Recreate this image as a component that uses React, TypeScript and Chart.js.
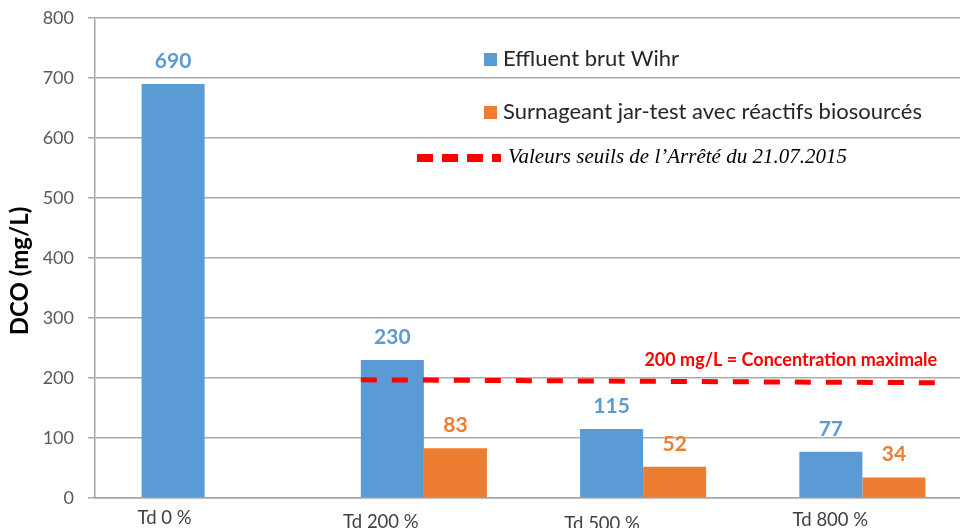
import React, { useEffect, useRef } from 'react';
import { Chart, registerables } from 'chart.js';

Chart.register(...registerables);

// ---- data ----
const categories = ['Td 0 %', 'Td 200 %', 'Td 500 %', 'Td 800 %'];
const effluentBrutWihr = [690, 230, 115, 77];
const surnageantJarTest = [null, 83, 52, 34];
const thresholdLine = [197, 192]; // dashed line values at its start / end
const thresholdValue = 200;
const thresholdLabel = '200 mg/L = Concentration maximale';
const seriesNames = ['Effluent brut Wihr', 'Surnageant jar-test avec réactifs biosourcés'];
const thresholdLegend = 'Valeurs seuils de l\u2019Arr\u00eat\u00e9 du 21.07.2015';
const yTitle = 'DCO (mg/L)';
const yMin = 0;
const yMax = 800;
const yStep = 100;

// ---- styles ----
const BLUE = '#5B9BD5';
const ORANGE = '#ED7D31';
const RED = '#FF0000';
const SANS = 'Lato, "Open Sans", sans-serif';
const SERIF = '"Liberation Serif", "DejaVu Serif", serif';
const labelShift: [number, number][] = [[-40, 20], [-43, 24], [-41, 26], [-32, 22]];

const overlay = {
  id: 'overlay',
  afterDraw(chart: any) {
    const { ctx, chartArea, scales } = chart;
    const xs = scales.x;
    const ys = scales.y;
    ctx.save();

    // category labels
    ctx.font = `18.5px ${SANS}`;
    ctx.fillStyle = '#404040';
    ctx.textAlign = 'center';
    ctx.textBaseline = 'middle';
    categories.forEach((c, i) => {
      const px = xs.getPixelForValue(i);
      ctx.fillText(c, px + labelShift[i][0], chartArea.bottom + labelShift[i][1]);
    });

    // value labels
    ctx.font = `bold 21px ${SANS}`;
    [0, 1].forEach((d) => {
      const meta = chart.getDatasetMeta(d);
      meta.data.forEach((bar: any, i: number) => {
        const v = chart.data.datasets[d].data[i];
        if (v == null) return;
        ctx.fillStyle = d ? ORANGE : BLUE;
        ctx.fillText(String(v), bar.x, bar.y - 23);
      });
    });

    // threshold dashed line
    const b = chart.getDatasetMeta(0).data[1];
    const x0 = b.x - b.width / 2;
    const catW = xs.width / categories.length;
    const x1 = xs.getPixelForValue(3) + catW * 0.355;
    ctx.strokeStyle = RED;
    ctx.lineWidth = 5;
    ctx.setLineDash([16, 15]);
    ctx.beginPath();
    ctx.moveTo(x0, ys.getPixelForValue(thresholdLine[0]));
    ctx.lineTo(x1, ys.getPixelForValue(thresholdLine[1]));
    ctx.stroke();
    ctx.setLineDash([]);

    ctx.font = `bold 18px ${SANS}`;
    ctx.textAlign = 'right';
    ctx.fillStyle = RED;
    ctx.fillText(thresholdLabel, x1 - 3, ys.getPixelForValue(thresholdValue) - 18);

    // legend
    ctx.textAlign = 'left';
    ctx.font = `22px ${SANS}`;
    ctx.fillStyle = BLUE;
    ctx.fillRect(484, 53, 13, 13);
    ctx.fillStyle = '#262626';
    ctx.fillText(seriesNames[0], 503, 59);
    ctx.fillStyle = ORANGE;
    ctx.fillRect(484, 106, 13, 13);
    ctx.fillStyle = '#262626';
    ctx.fillText(seriesNames[1], 503, 112);

    ctx.strokeStyle = RED;
    ctx.lineWidth = 8;
    ctx.setLineDash([16, 9]);
    ctx.beginPath();
    ctx.moveTo(417, 158);
    ctx.lineTo(501, 158);
    ctx.stroke();
    ctx.setLineDash([]);
    ctx.font = `italic 21px ${SERIF}`;
    ctx.fillStyle = '#000000';
    ctx.fillText(thresholdLegend, 508, 157);

    // y title
    ctx.translate(20, 271);
    ctx.rotate(-Math.PI / 2);
    ctx.textAlign = 'center';
    ctx.font = `bold 24px ${SANS}`;
    ctx.fillStyle = '#000000';
    ctx.fillText(yTitle, 0, 0);

    ctx.restore();
  },
};

export default function App() {
  const ref = useRef<HTMLCanvasElement>(null);

  useEffect(() => {
    if (!ref.current) return;
    const chart = new Chart(ref.current, {
      type: 'bar',
      data: {
        labels: categories,
        datasets: [
          {
            label: seriesNames[0],
            data: effluentBrutWihr,
            backgroundColor: BLUE,
            borderWidth: 0,
            categoryPercentage: 0.575,
            barPercentage: 1.0,
          },
          {
            label: seriesNames[1],
            data: surnageantJarTest as any,
            backgroundColor: ORANGE,
            borderWidth: 0,
            categoryPercentage: 0.575,
            barPercentage: 1.0,
          },
        ],
      },
      options: {
        responsive: false,
        animation: false,
        layout: { padding: { top: 18, left: 0, right: 0, bottom: 0 } },
        plugins: {
          legend: { display: false },
          tooltip: { enabled: false },
        },
        scales: {
          x: {
            type: 'category',
            grid: { display: false, drawTicks: false },
            border: { display: true, color: '#A6A6A6', width: 1.5 },
            ticks: { display: false },
            afterFit: (s: any) => {
              s.height = 30;
              s.paddingLeft = 0;
              s.paddingRight = 0;
            },
          },
          y: {
            min: yMin,
            max: yMax,
            ticks: {
              stepSize: yStep,
              font: { family: SANS, size: 18 },
              color: '#595959',
              padding: 14,
            },
            grid: { color: '#ABABAB', lineWidth: 1.5, tickLength: 7 },
            border: { color: '#A6A6A6', width: 1.5 },
            afterFit: (s: any) => {
              s.width = 95;
              s.paddingTop = 0;
              s.paddingBottom = 0;
            },
          },
        },
      },
      plugins: [overlay],
    });
    return () => chart.destroy();
  }, []);

  return (
    <div
      style={{
        position: 'absolute',
        left: 0,
        top: 0,
        width: 960,
        height: 528,
        overflow: 'hidden',
        background: '#ffffff',
      }}
    >
      <canvas ref={ref} width={972} height={528} style={{ display: 'block' }} />
    </div>
  );
}
